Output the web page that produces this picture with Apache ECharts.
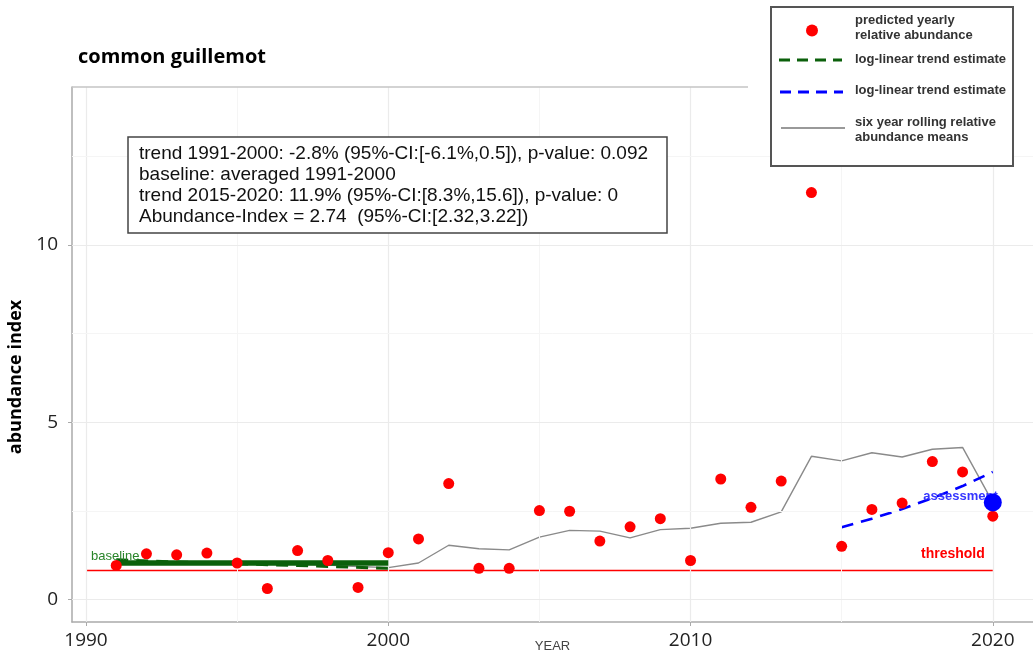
<!DOCTYPE html>
<html>
<head>
<meta charset="utf-8">
<script src="https://cdn.jsdelivr.net/npm/echarts@6/dist/echarts.min.js"></script>
<style>
html,body{margin:0;padding:0;background:#fff;}
#chart{width:1033px;height:657px;}
</style>
</head>
<body>
<div id="chart"></div>
<script>
// ---- data ----
const years = [1991,1992,1993,1994,1995,1996,1997,1998,1999,2000,2001,2002,2003,2004,2005,2006,2007,2008,2009,2010,2011,2012,2013,2014,2015,2016,2017,2018,2019,2020];
const predicted = [0.96,1.29,1.26,1.31,1.03,0.31,1.38,1.10,0.34,1.32,1.71,3.27,0.88,0.88,2.51,2.49,1.65,2.05,2.28,1.10,3.40,2.60,3.34,11.48,1.50,2.54,2.72,3.89,3.60,2.35];
const rollingYears = [1996,1997,1998,1999,2000,2001,2002,2003,2004,2005,2006,2007,2008,2009,2010,2011,2012,2013,2014,2015,2016,2017,2018,2019,2020];
const rollingMeans = [1.00,1.00,0.97,0.93,0.90,1.03,1.53,1.43,1.40,1.76,1.95,1.93,1.74,1.97,2.01,2.15,2.18,2.47,4.04,3.91,4.14,4.02,4.24,4.29,2.74];
const earlyTrendYears = [1991,1994,1997,2000];
const earlyTrend = [1.12,1.03,0.96,0.88];
const lateTrendYears = [2015,2016,2017,2018,2019,2020];
const lateTrend = [2.04,2.28,2.55,2.86,3.20,3.60];
const baselineYears = [1991,2000];
const baselineValue = 1.03;
const thresholdYears = [1990,2020];
const thresholdValue = 0.82;
const assessmentYear = 2020;
const assessmentValue = 2.74;
const xTicks = [1990,2000,2010,2020];
const xMinorTicks = [1995,2005,2015];
const yTicks = [0,5,10];
const yMinorTicks = [2.5,7.5,12.5];
const infoLines = [
  'trend 1991-2000: -2.8% (95%-CI:[-6.1%,0.5]), p-value: 0.092',
  'baseline: averaged 1991-2000',
  'trend 2015-2020: 11.9% (95%-CI:[8.3%,15.6]), p-value: 0',
  'Abundance-Index = 2.74  (95%-CI:[2.32,3.22])'
];

const pair = (xs, ys) => xs.map((x, i) => [x, ys[i]]);

const chart = echarts.init(document.getElementById('chart'), null, {renderer: 'canvas'});

const gridLines = [];
xTicks.forEach(v => gridLines.push({xAxis: v, lineStyle: {color: '#ebebeb', width: 1.2, type: 'solid'}}));
xMinorTicks.forEach(v => gridLines.push({xAxis: v, lineStyle: {color: '#f5f5f5', width: 1, type: 'solid'}}));
yTicks.forEach(v => gridLines.push({yAxis: v, lineStyle: {color: '#ebebeb', width: 1.2, type: 'solid'}}));
yMinorTicks.forEach(v => gridLines.push({yAxis: v, lineStyle: {color: '#f5f5f5', width: 1, type: 'solid'}}));

const tickFont = {fontFamily: 'Open Sans', fontSize: 19, color: '#222'};
const lgText = {fontFamily: 'Liberation Sans', fontSize: 13, fontWeight: 'bold', fill: '#333'};

const option = {
  animation: false,
  backgroundColor: '#fff',
  grid: {left: 72, right: 0, top: 87, bottom: 35, containLabel: false, outerBoundsMode: 'none'},
  xAxis: {
    type: 'value', min: 1989.537, max: 2021.33,
    name: 'YEAR', nameLocation: 'middle', nameGap: 18, nameMoveOverlap: false,
    nameTextStyle: {fontFamily: 'Liberation Sans', fontSize: 13, color: '#444'},
    axisLine: {show: true, onZero: false, lineStyle: {color: '#aaa', width: 1.5}},
    axisTick: {show: true, length: 4, customValues: xTicks, lineStyle: {color: '#aaa'}},
    axisLabel: {customValues: xTicks, margin: 9, formatter: v => String(v), ...tickFont},
    splitLine: {show: false}
  },
  yAxis: {
    type: 'value', min: -0.635, max: 14.46,
    axisLine: {show: true, onZero: false, lineStyle: {color: '#aaa', width: 1.5}},
    axisTick: {show: true, length: 4, customValues: yTicks, lineStyle: {color: '#aaa'}},
    axisLabel: {customValues: yTicks, margin: 14, formatter: v => String(v), ...tickFont},
    splitLine: {show: false}
  },
  series: [
    {type: 'line', data: [], z: 0, silent: true,
     markLine: {silent: true, symbol: 'none', label: {show: false}, data: gridLines, animation: false}},
    {name: 'threshold', type: 'line', z: 2, symbol: 'none', silent: true,
     data: pair(thresholdYears, [thresholdValue, thresholdValue]),
     lineStyle: {color: '#ff0000', width: 1.6}},
    {name: 'rolling', type: 'line', z: 3, symbol: 'none', silent: true,
     data: pair(rollingYears, rollingMeans),
     lineStyle: {color: '#8a8a8a', width: 1.4}},
    {name: 'earlyTrend', type: 'line', z: 4, symbol: 'none', silent: true,
     data: pair(earlyTrendYears, earlyTrend),
     lineStyle: {color: '#0b600b', width: 3, type: [12, 8]}},
    {name: 'baseline', type: 'line', z: 5, symbol: 'none', silent: true,
     data: pair(baselineYears, [baselineValue, baselineValue]),
     lineStyle: {color: '#0b600b', width: 5.5}},
    {name: 'lateTrend', type: 'line', z: 4, symbol: 'none', silent: true,
     data: pair(lateTrendYears, lateTrend),
     lineStyle: {color: '#0000ff', width: 2.6, type: [12, 8]}},
    {name: 'predicted', type: 'scatter', z: 6, symbol: 'circle', symbolSize: 11,
     data: pair(years, predicted), itemStyle: {color: '#ff0000', opacity: 1}},
    {name: 'labels', type: 'scatter', z: 6, symbolSize: 0, silent: true, itemStyle: {opacity: 1},
     data: [
       {value: [thresholdYears[0], baselineValue], label: {show: true, formatter: 'baseline', position: 'right', distance: 5, offset: [0, -6.5],
         fontFamily: 'Liberation Sans', fontSize: 13, color: '#2a852a', opacity: 1}},
       {value: [thresholdYears[1], thresholdValue], label: {show: true, formatter: 'threshold', position: 'left', distance: 8, offset: [0, -16.5],
         fontFamily: 'Liberation Sans', fontSize: 14, fontWeight: 'bold', color: '#ff0000', opacity: 1}},
       {value: [assessmentYear, assessmentValue], label: {show: true, formatter: 'assessment', position: 'left', distance: 0, offset: [5, -6],
         fontFamily: 'Liberation Sans', fontSize: 13, fontWeight: 'bold', color: '#3535ff', opacity: 1}}
     ]},
    {name: 'assessment', type: 'scatter', z: 7, symbolSize: 18,
     data: [[assessmentYear, assessmentValue]], itemStyle: {color: '#0000ff', opacity: 1}}
  ],
  graphic: [
    {type: 'line', shape: {x1: 72, y1: 87, x2: 748, y2: 87}, style: {stroke: '#c4c4c4', lineWidth: 1.5}, z: 10},
    {type: 'text', left: 78, top: 47, style: {text: 'common guillemot', fontFamily: 'Open Sans', fontSize: 20, fontWeight: 'bold', fill: '#000'}},
    {type: 'text', x: 16, y: 377, rotation: Math.PI / 2, style: {text: 'abundance index', fontFamily: 'Open Sans', fontSize: 18, fontWeight: 'bold', fill: '#000', align: 'center', verticalAlign: 'middle'}},
    // info box
    {type: 'rect', shape: {x: 128, y: 137, width: 539, height: 96}, style: {fill: '#fff', stroke: '#444', lineWidth: 1.5}, z: 20},
    ...infoLines.map((t, i) => ({type: 'text', x: 139, y: 154 + i * 21, z: 21,
      style: {text: t, fontFamily: 'Liberation Sans', fontSize: 19, fill: '#111', verticalAlign: 'middle'}})),
    // legend box
    {type: 'rect', shape: {x: 771, y: 7, width: 242, height: 159}, style: {fill: '#fff', stroke: '#555', lineWidth: 2}, z: 20},
    {type: 'circle', shape: {cx: 812, cy: 30.5, r: 6}, style: {fill: '#ff0000'}, z: 21},
    {type: 'text', x: 855, y: 20, z: 21, style: {text: 'predicted yearly', ...lgText, verticalAlign: 'middle'}},
    {type: 'text', x: 855, y: 35, z: 21, style: {text: 'relative abundance', ...lgText, verticalAlign: 'middle'}},
    {type: 'line', shape: {x1: 779, y1: 60, x2: 842, y2: 60}, style: {stroke: '#0b600b', lineWidth: 3, lineDash: [11, 7]}, z: 21},
    {type: 'text', x: 855, y: 59.5, z: 21, style: {text: 'log-linear trend estimate', ...lgText, verticalAlign: 'middle'}},
    {type: 'line', shape: {x1: 780, y1: 92, x2: 843, y2: 92}, style: {stroke: '#0000ff', lineWidth: 3, lineDash: [11, 7]}, z: 21},
    {type: 'text', x: 855, y: 90.5, z: 21, style: {text: 'log-linear trend estimate', ...lgText, verticalAlign: 'middle'}},
    {type: 'line', shape: {x1: 781, y1: 128, x2: 845, y2: 128}, style: {stroke: '#777', lineWidth: 1.6}, z: 21},
    {type: 'text', x: 855, y: 122, z: 21, style: {text: 'six year rolling relative', ...lgText, verticalAlign: 'middle'}},
    {type: 'text', x: 855, y: 137.5, z: 21, style: {text: 'abundance means', ...lgText, verticalAlign: 'middle'}}
  ]
};
chart.setOption(option);
</script>
</body>
</html>
